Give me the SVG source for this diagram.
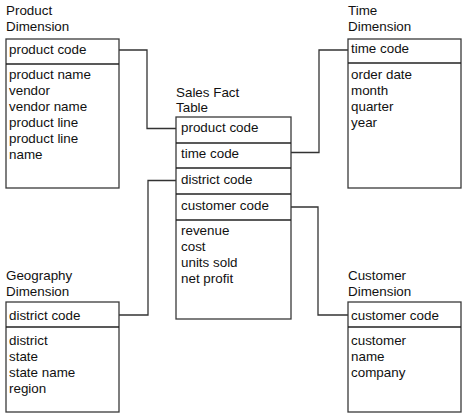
<svg xmlns="http://www.w3.org/2000/svg" width="468" height="418" viewBox="0 0 468 418">
<style>
text{font-family:"Liberation Sans",Arial,sans-serif;font-size:13.4px;fill:#111}
.box{fill:#fff;stroke:#3a3a3a;stroke-width:1.3}
.div{stroke:#222;stroke-width:1.3}
.conn{fill:none;stroke:#333;stroke-width:1.3}
</style>
<rect width="468" height="418" fill="#fff"/>
<g id="connectors">
<polyline class="conn" points="119,50 147,50 147,128.5 176,128.5"/>
<polyline class="conn" points="291,152.5 319,152.5 319,50 348,50"/>
<polyline class="conn" points="176,180.5 148,180.5 148,315 119,315"/>
<polyline class="conn" points="291,207 318,207 318,315 348,315"/>
</g>
<g id="product">
<text x="6" y="15">Product</text>
<text x="6" y="31">Dimension</text>
<rect class="box" x="6" y="39" width="113" height="149"/>
<line class="div" x1="6" y1="64" x2="119" y2="64"/>
<text x="9" y="54">product code</text>
<text x="9" y="79">product name</text>
<text x="9" y="95">vendor</text>
<text x="9" y="111">vendor name</text>
<text x="9" y="127">product line</text>
<text x="9" y="143">product line</text>
<text x="9" y="159">name</text>
</g>
<g id="time">
<text x="348" y="15">Time</text>
<text x="348" y="31">Dimension</text>
<rect class="box" x="348" y="39" width="113" height="149"/>
<line class="div" x1="348" y1="63" x2="461" y2="63"/>
<text x="351" y="53">time code</text>
<text x="351" y="79">order date</text>
<text x="351" y="95">month</text>
<text x="351" y="111">quarter</text>
<text x="351" y="127">year</text>
</g>
<g id="sales">
<text x="176" y="97">Sales Fact</text>
<text x="176" y="112">Table</text>
<rect class="box" x="176" y="117" width="115" height="202"/>
<line class="div" x1="176" y1="143" x2="291" y2="143"/>
<line class="div" x1="176" y1="168" x2="291" y2="168"/>
<line class="div" x1="176" y1="194" x2="291" y2="194"/>
<line class="div" x1="176" y1="220" x2="291" y2="220"/>
<text x="181" y="132">product code</text>
<text x="181" y="158">time code</text>
<text x="181" y="184">district code</text>
<text x="181" y="210">customer code</text>
<text x="181" y="235">revenue</text>
<text x="181" y="251">cost</text>
<text x="181" y="267">units sold</text>
<text x="181" y="283">net profit</text>
</g>
<g id="geography">
<text x="6" y="280">Geography</text>
<text x="6" y="296">Dimension</text>
<rect class="box" x="6" y="302" width="113" height="110"/>
<line class="div" x1="6" y1="327" x2="119" y2="327"/>
<text x="9" y="320">district code</text>
<text x="9" y="345">district</text>
<text x="9" y="361">state</text>
<text x="9" y="377">state name</text>
<text x="9" y="393">region</text>
</g>
<g id="customer">
<text x="348" y="280">Customer</text>
<text x="348" y="296">Dimension</text>
<rect class="box" x="348" y="302" width="113" height="110"/>
<line class="div" x1="348" y1="327" x2="461" y2="327"/>
<text x="351" y="320">customer code</text>
<text x="351" y="345">customer</text>
<text x="351" y="361">name</text>
<text x="351" y="377">company</text>
</g>
</svg>
